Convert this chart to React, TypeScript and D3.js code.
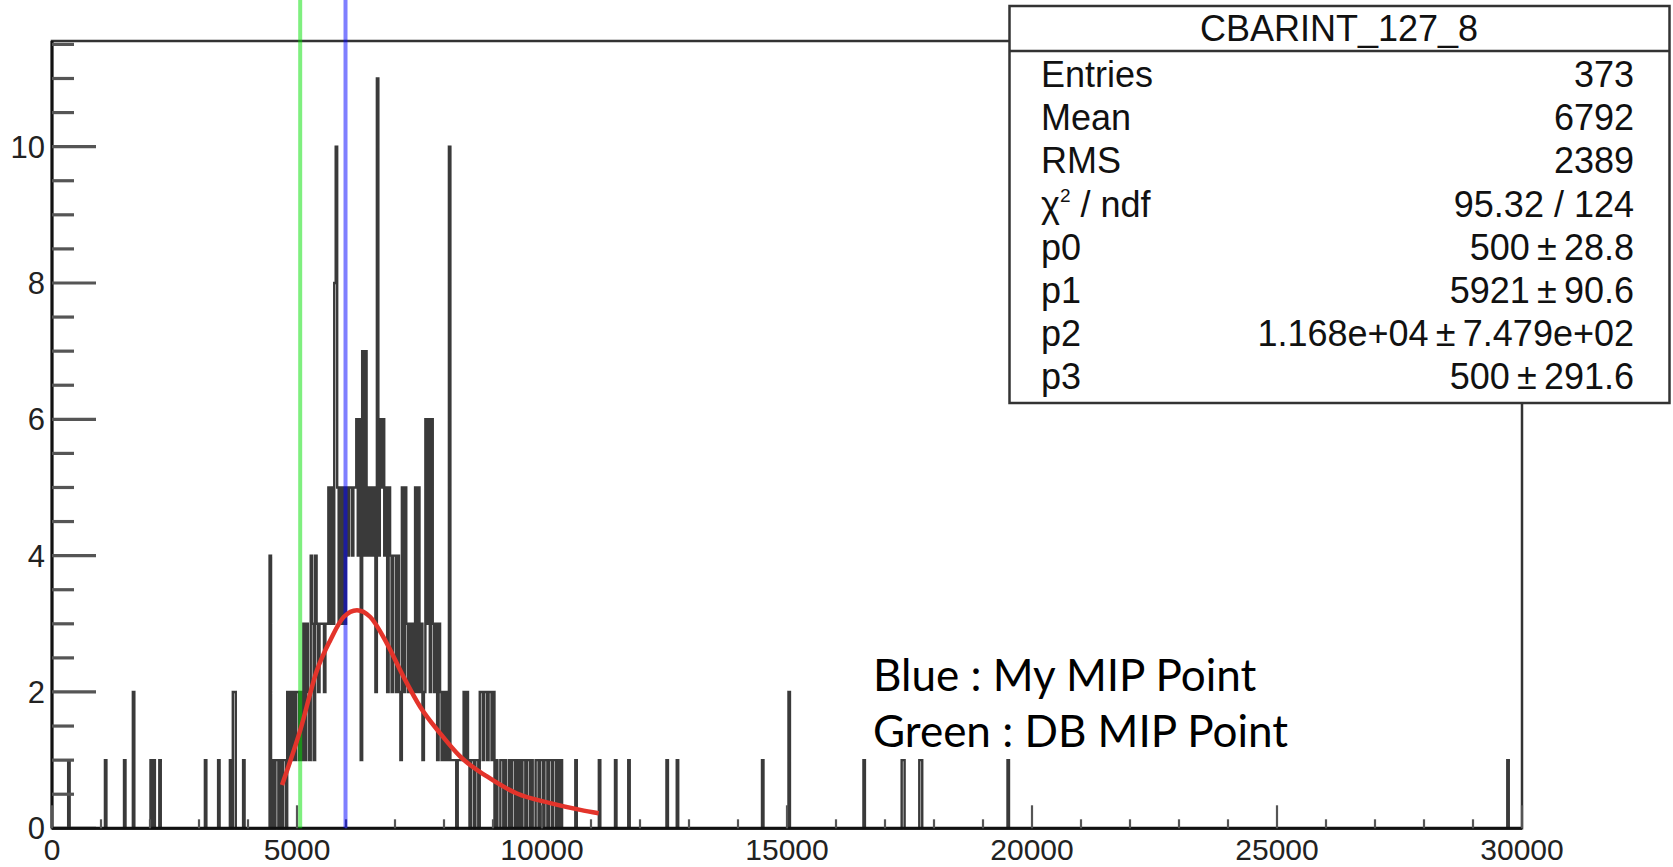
import React, { useEffect, useRef } from "react";
import * as d3 from "d3";

const W = 1673;
const H = 867;

// histogram binning: 1000 bins of 30 between 0 and 30000
const BIN_WIDTH = 30;
const N_BINS = 1000;

// isolated entries below the peak
const leftTailX = [330, 1080, 1470, 1650, 2010, 2070, 2190, 3120, 3390, 3630, 3690, 3720, 3900];
const leftTailCounts = [1, 1, 1, 2, 1, 1, 1, 1, 1, 1, 2, 2, 1];

// dense part, one value per bin starting at coreStart
const coreStart = 4410;
const coreCounts = [
  0, 4, 0, 1, 0, 1, 1, 0, 1, 0, // 4410
  1, 1, 0, 2, 1, 2, 1, 2, 1, 2, // 4710
  2, 1, 2, 1, 3, 1, 3, 2, 1, 4, // 5010
  3, 1, 4, 3, 2, 3, 3, 3, 2, 3, // 5310
  3, 5, 3, 5, 3, 8, 10, 5, 3, 5, // 5610
  3, 5, 3, 5, 4, 5, 5, 4, 5, 5, // 5910
  6, 4, 6, 1, 7, 4, 7, 4, 5, 4, // 6210
  5, 4, 5, 2, 11, 4, 6, 5, 6, 4, // 6510
  5, 2, 5, 4, 2, 4, 4, 2, 4, 2, // 6810
  1, 5, 2, 5, 3, 2, 3, 2, 3, 2, // 7110
  5, 2, 5, 2, 3, 1, 2, 6, 3, 6, // 7410
  2, 6, 3, 2, 3, 1, 3, 2, 1, 2, // 7710
  1, 2, 1, 10, 1, 1, 1, 1, 0, 1, // 8010
  1, 1, 1, 2, 1, 2, 1, 0, 1, 1, // 8310
  0, 1, 1, 0, 2, 2, 1, 2, 2, 1, // 8610
  2, 2, 1, 2, 0, 1, 0, 0, 1, 1, // 8910
  0, 1, 0, 0, 1, 0, 1, 1, 0, 1, // 9210
  0, 1, 0, 1, 1, 0, 1, 1, 0, 1, // 9510
  0, 0, 1, 1, 0, 1, 1, 0, 1, 1, // 9810
  0, 1, 1, 0, 1, 1, 0, 1, 0, 1, // 10110
];

// isolated entries above the peak
const rightTailX = [10680, 11160, 11490, 11760, 12540, 12750, 14490, 15030, 16560, 17340, 17370, 17700, 17730, 19500, 29700];
const rightTailCounts = [1, 1, 1, 1, 1, 1, 1, 2, 1, 1, 1, 1, 1, 1, 1];

// fitted curve
const fitX = [4694, 5067, 5408, 5680, 5952, 6224, 6496, 6836, 7176, 7516, 7924, 8333, 8877, 9490, 10169, 10782, 11156];
const fitY = [0.635, 1.44, 2.32, 2.76, 3.1, 3.2, 3.1, 2.71, 2.22, 1.78, 1.39, 1.05, 0.76, 0.51, 0.37, 0.27, 0.22];

// MIP points
const dbMip = 5065;
const myMip = 5990;

const xTicks = [0, 5000, 10000, 15000, 20000, 25000, 30000];
const yTicks = [0, 2, 4, 6, 8, 10];

const statTitle = "CBARINT_127_8";
const statNames = ["Entries", "Mean", "RMS", "chi2", "p0", "p1", "p2", "p3"];
const statValues = [
  "373",
  "6792",
  "2389",
  "95.32 / 124",
  "500\u2009\u00b1\u200928.8",
  "5921\u2009\u00b1\u200990.6",
  "1.168e+04\u2009\u00b1\u20097.479e+02",
  "500\u2009\u00b1\u2009291.6",
];

const notes = ["Blue : My MIP Point", "Green : DB MIP Point"];

const ROOT_FONT = "'Liberation Sans', Arial, Helvetica, sans-serif";

export default function App() {
  const svgRef = useRef<SVGSVGElement>(null);

  useEffect(() => {
    const svg = d3.select(svgRef.current);
    svg.selectAll("*").remove();

    const left = 52, right = 1522, top = 41, bottom = 828.3;
    const x = d3.scaleLinear().domain([0, 30000]).range([left, right]);
    const y = d3.scaleLinear().domain([0, 11.55]).range([bottom, top]);

    // soft edges, the original is an upscaled screenshot
    svg
      .append("defs")
      .append("filter")
      .attr("id", "soft")
      .append("feGaussianBlur")
      .attr("stdDeviation", 0.55);

    // fill the bins
    const counts = new Array(N_BINS).fill(0);
    leftTailX.forEach((v, i) => (counts[Math.floor(v / BIN_WIDTH)] += leftTailCounts[i]));
    coreCounts.forEach((c, i) => (counts[Math.floor(coreStart / BIN_WIDTH) + i] += c));
    rightTailX.forEach((v, i) => (counts[Math.floor(v / BIN_WIDTH)] += rightTailCounts[i]));

    const pts: [number, number][] = [[0, 0]];
    counts.forEach((c, i) => pts.push([i * BIN_WIDTH, c]));
    pts.push([N_BINS * BIN_WIDTH, counts[N_BINS - 1]]);
    pts.push([N_BINS * BIN_WIDTH, 0]);

    const step = d3
      .line<[number, number]>()
      .x((d) => x(d[0]))
      .y((d) => y(d[1]))
      .curve(d3.curveStepAfter);

    svg
      .append("path")
      .attr("d", step(pts))
      .attr("fill", "none")
      .attr("stroke", "#1c1c1c")
      .attr("stroke-opacity", 0.88)
      .attr("stroke-width", 2.4)
      .attr("filter", "url(#soft)");

    // frame
    svg
      .append("rect")
      .attr("x", left)
      .attr("y", top)
      .attr("width", right - left)
      .attr("height", bottom - top)
      .attr("fill", "none")
      .attr("stroke", "#333")
      .attr("stroke-width", 2.5);

    // y axis
    svg.append("line").attr("x1", left).attr("x2", left).attr("y1", top).attr("y2", bottom)
      .attr("stroke", "#111").attr("stroke-width", 3);
    svg
      .selectAll(".yminor")
      .data(d3.range(0, 11.51, 0.5))
      .enter()
      .append("line")
      .attr("x1", left)
      .attr("x2", (d) => (yTicks.includes(d) ? left + 44 : left + 22))
      .attr("y1", (d) => y(d))
      .attr("y2", (d) => y(d))
      .attr("stroke", "#555")
      .attr("stroke-width", 3.2);
    svg
      .selectAll(".ylab")
      .data(yTicks)
      .enter()
      .append("text")
      .attr("x", 45)
      .attr("y", (d) => y(d))
      .attr("dy", "0.36em")
      .attr("text-anchor", "end")
      .attr("font-family", ROOT_FONT)
      .attr("font-size", 31)
      .attr("fill", "#222")
      .text((d) => d);

    // x axis
    svg.append("line").attr("x1", left).attr("x2", right).attr("y1", bottom).attr("y2", bottom)
      .attr("stroke", "#111").attr("stroke-width", 3);
    svg
      .selectAll(".xminor")
      .data(d3.range(0, 30001, 1000))
      .enter()
      .append("line")
      .attr("x1", (d) => x(d))
      .attr("x2", (d) => x(d))
      .attr("y1", bottom)
      .attr("y2", (d) => (xTicks.includes(d) ? bottom - 23 : bottom - 9))
      .attr("stroke", "#555")
      .attr("stroke-width", 2.2);
    svg
      .selectAll(".xlab")
      .data(xTicks)
      .enter()
      .append("text")
      .attr("x", (d) => x(d))
      .attr("y", 860)
      .attr("text-anchor", "middle")
      .attr("font-family", ROOT_FONT)
      .attr("font-size", 30)
      .attr("fill", "#222")
      .text((d) => d);

    // MIP lines
    svg.append("line").attr("x1", x(dbMip)).attr("x2", x(dbMip)).attr("y1", 0).attr("y2", bottom)
      .attr("stroke", "#00e000").attr("stroke-opacity", 0.5).attr("stroke-width", 4);
    svg.append("line").attr("x1", x(myMip)).attr("x2", x(myMip)).attr("y1", 0).attr("y2", bottom)
      .attr("stroke", "#0000ff").attr("stroke-opacity", 0.5).attr("stroke-width", 4);

    // fit curve
    const fitLine = d3
      .line<number>()
      .x((d) => x(d))
      .y((_, i) => y(fitY[i]))
      .curve(d3.curveMonotoneX);
    svg
      .append("path")
      .attr("d", fitLine(fitX))
      .attr("fill", "none")
      .attr("stroke", "#e3342b")
      .attr("stroke-width", 4.5);

    // notes
    notes.forEach((t, i) => {
      svg
        .append("text")
        .attr("x", 873)
        .attr("y", 691 + i * 56)
        .attr("font-family", "Lato, 'Open Sans', sans-serif")
        .attr("font-size", 44)
        .attr("fill", "#000")
        .text(t);
    });

    // stat box
    const bx = 1009.5, by = 6, bw = 660, bh = 397;
    const box = svg.append("g");
    box
      .append("rect")
      .attr("x", bx)
      .attr("y", by)
      .attr("width", bw)
      .attr("height", bh)
      .attr("fill", "#fff")
      .attr("stroke", "#333")
      .attr("stroke-width", 2.5);
    box.append("line").attr("x1", bx).attr("x2", bx + bw).attr("y1", 51).attr("y2", 51)
      .attr("stroke", "#333").attr("stroke-width", 2.5);
    box
      .append("text")
      .attr("x", 1339)
      .attr("y", 40.5)
      .attr("text-anchor", "middle")
      .attr("font-family", ROOT_FONT)
      .attr("font-size", 36)
      .attr("fill", "#111")
      .text(statTitle);

    statNames.forEach((name, i) => {
      const yy = 87 + i * 43.2;
      const lab = box
        .append("text")
        .attr("x", 1041)
        .attr("y", yy)
        .attr("font-family", ROOT_FONT)
        .attr("font-size", 36)
        .attr("fill", "#111");
      if (name === "chi2") {
        lab.append("tspan").text("\u03c7");
        lab.append("tspan").attr("font-size", 19).attr("dy", -15).text("2");
        lab.append("tspan").attr("dy", 15).text(" / ndf");
      } else {
        lab.text(name);
      }
      box
        .append("text")
        .attr("x", 1634)
        .attr("y", yy)
        .attr("text-anchor", "end")
        .attr("font-family", ROOT_FONT)
        .attr("font-size", 36)
        .attr("fill", "#111")
        .text(statValues[i]);
    });
  }, []);

  return (
    <div style={{ position: "fixed", left: 0, top: 0, background: "#fff" }}>
      <svg ref={svgRef} width={W} height={H}></svg>
    </div>
  );
}
